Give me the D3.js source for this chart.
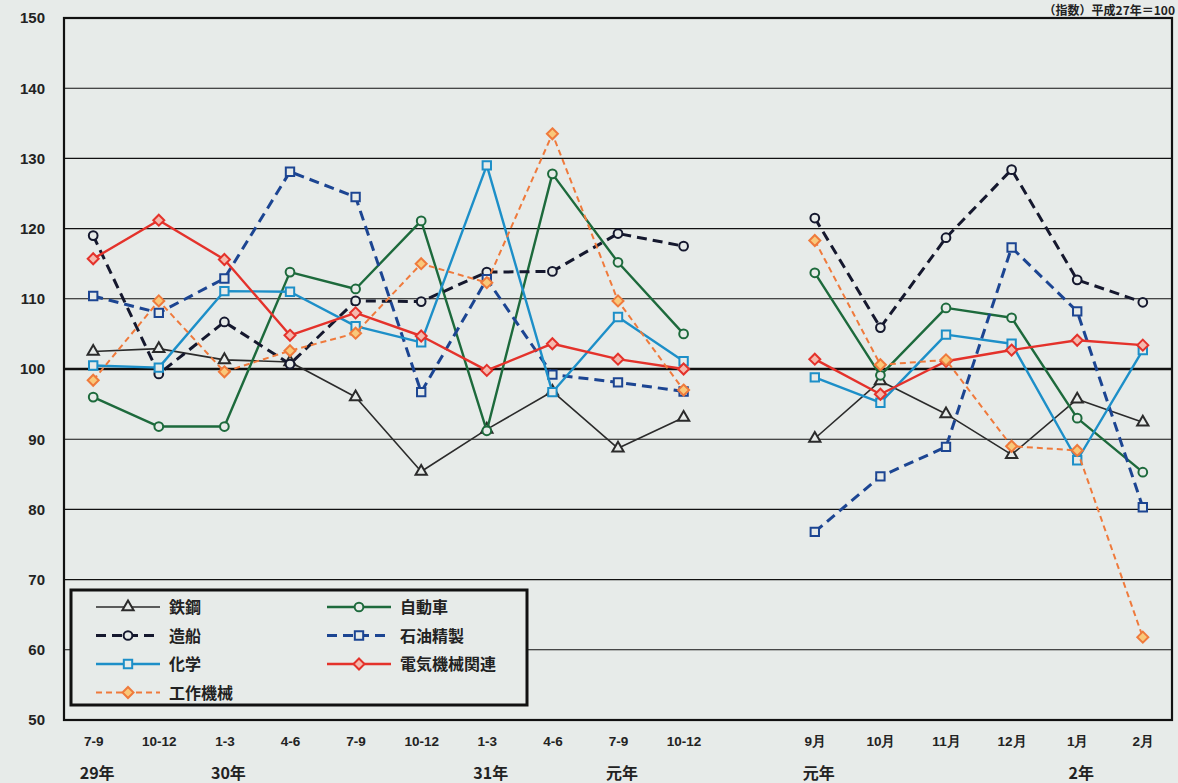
<!DOCTYPE html>
<html><head><meta charset="utf-8">
<script src="https://cdn.jsdelivr.net/npm/d3@7"></script>
<style>
html,body{margin:0;padding:0;background:#e7ebe9;}
svg{display:block;}
</style></head>
<body>
<svg id="chart" width="1178" height="783"></svg>
<script>
// ---- data ----
const categories = ["7-9","10-12","1-3","4-6","7-9","10-12","1-3","4-6","7-9","10-12","","9月","10月","11月","12月","1月","2月"];
const yearLabels = [[0,"29年"],[2,"30年"],[6,"31年"],[8,"元年"],[11,"元年"],[15,"2年"]];
const yTicks = [50,60,70,80,90,100,110,120,130,140,150];

const steel      = [102.5,102.9,101.3,101.0, 96.0, 85.4, 91.4, 96.8, 88.7, 93.1,null, 90.1, 98.3, 93.6, 87.8, 95.7, 92.4];
const autos      = [ 96.0, 91.8, 91.8,113.8,111.4,121.1, 91.2,127.8,115.2,105.0,null,113.7, 99.1,108.7,107.3, 93.0, 85.3];
const ships      = [119.0, 99.3,106.7,100.7,109.7,109.6,113.8,113.9,119.3,117.5,null,121.5,105.9,118.7,128.4,112.7,109.5];
const oil        = [110.4,108.0,112.9,128.1,124.5, 96.7,112.8, 99.2, 98.1, 96.8,null, 76.8, 84.7, 88.9,117.3,108.2, 80.3];
const chemical   = [100.5,100.2,111.1,111.0,106.1,103.8,129.0, 96.7,107.4,101.1,null, 98.8, 95.2,104.9,103.6, 87.0,102.7];
const electrical = [115.7,121.2,115.6,104.8,108.0,104.7, 99.8,103.6,101.4,100.0,null,101.4, 96.4,101.1,102.7,104.1,103.4];
const machine    = [ 98.4,109.7, 99.6,102.6,105.1,115.0,112.3,133.5,109.7, 97.0,null,118.3,100.6,101.3, 89.0, 88.4, 61.8];

const series = [
  {name:"鉄鋼", values:steel, color:"#2b2b2b", width:1.6, dash:null, marker:"triangle", fill:"#e7ebe9"},
  {name:"自動車", values:autos, color:"#1d6a3c", width:2.4, dash:null, marker:"circle", fill:"#e7ebe9"},
  {name:"造船", values:ships, color:"#15182e", width:3, dash:"10,6", marker:"circle", fill:"#e7ebe9"},
  {name:"石油精製", values:oil, color:"#1c4592", width:3, dash:"10,6", marker:"square", fill:"#e7ebe9"},
  {name:"化学", values:chemical, color:"#1d8fc8", width:2.4, dash:null, marker:"square", fill:"#e7ebe9"},
  {name:"電気機械関連", values:electrical, color:"#e4322b", width:2.4, dash:null, marker:"diamond", fill:"#f5b9ae"},
  {name:"工作機械", values:machine, color:"#ef7a3c", width:2, dash:"6,4", marker:"diamond", fill:"#f9c87a"}
];

// ---- layout ----
const svg = d3.select("#chart");
const L = 64, R = 1172, T = 18, B = 720;

const x = d3.scalePoint().domain(d3.range(categories.length)).range([L, R]).padding(0.445);
const y = d3.scaleLinear().domain([50,150]).range([B, T]);

// grid lines
svg.append("g").selectAll("line").data(yTicks.filter(v=>v>50 && v<150)).join("line")
  .attr("x1", L).attr("x2", R)
  .attr("y1", d=>y(d)).attr("y2", d=>y(d))
  .attr("stroke", "#111").attr("stroke-width", d=>d===100?2.6:1.1);

// frame
svg.append("rect").attr("x", L).attr("y", T).attr("width", R-L).attr("height", B-T)
  .attr("fill","none").attr("stroke","#111").attr("stroke-width",2.2);

// y axis labels
const yAxis = d3.axisLeft(y).tickValues(yTicks).tickSize(0).tickPadding(19);
const gy = svg.append("g").attr("transform",`translate(${L},0)`).call(yAxis);
gy.select(".domain").remove();
gy.selectAll("text").attr("font-family","Liberation Sans, Arial, sans-serif")
  .attr("font-size",15).attr("fill","#222").attr("font-weight","bold");

// x axis labels
const xAxis = d3.axisBottom(x).tickFormat(i=>categories[i]).tickSize(0).tickPadding(16);
const gx = svg.append("g").attr("transform",`translate(0,${B})`).call(xAxis);
gx.select(".domain").remove();
gx.selectAll("text").attr("font-family","Liberation Sans Narrow, Liberation Sans, Arial, sans-serif")
  .attr("font-size",13.5).attr("font-weight","bold").attr("fill","#222");

// year labels
svg.append("g").selectAll("text").data(yearLabels).join("text")
  .attr("x", d=>x(d[0])+4).attr("y", 779)
  .attr("text-anchor","middle")
  .attr("font-family","Noto Sans CJK JP, sans-serif").attr("font-weight","bold")
  .attr("font-size",16).attr("fill","#222").text(d=>d[1]);

// unit label
svg.append("text").attr("x", 1175).attr("y", 14.5).attr("text-anchor","end")
  .attr("font-family","Noto Sans CJK JP, sans-serif").attr("font-weight","bold")
  .attr("font-size",12).attr("fill","#222").text("（指数）平成27年＝100");

// markers
function markerPath(type){
  if (type === "diamond") {
    const p = d3.path(); const r = 5.5;
    p.moveTo(0,-r); p.lineTo(r,0); p.lineTo(0,r); p.lineTo(-r,0); p.closePath();
    return p.toString();
  }
  const sym = {triangle:d3.symbolTriangle, circle:d3.symbolCircle, square:d3.symbolSquare}[type];
  const size = {triangle:55, circle:60, square:70}[type];
  return d3.symbol().type(sym).size(size)();
}

const line = d3.line().defined(d=>d!=null).x((d,i)=>x(i)).y(d=>y(d));

const plot = svg.append("g");
series.forEach(s=>{
  const g = plot.append("g");
  g.append("path").attr("d", line(s.values))
    .attr("fill","none").attr("stroke",s.color).attr("stroke-width",s.width)
    .attr("stroke-dasharray",s.dash).attr("stroke-linejoin","round");
  g.selectAll("path.m").data(s.values.map((v,i)=>[i,v]).filter(d=>d[1]!=null)).join("path")
    .attr("class","m")
    .attr("transform", d=>`translate(${x(d[0])},${y(d[1])})`)
    .attr("d", markerPath(s.marker))
    .attr("fill", s.fill).attr("stroke", s.color).attr("stroke-width", 2);
});

// legend
const lg = svg.append("g");
lg.append("rect").attr("x",71).attr("y",590).attr("width",456).attr("height",115)
  .attr("fill","#e7ebe9").attr("stroke","#111").attr("stroke-width",3);
series.forEach((s,k)=>{
  const col = k%2, row = Math.floor(k/2);
  const lx = col===0 ? 96 : 327;
  const ly = 607 + row*28.5;
  lg.append("line").attr("x1",lx).attr("x2",lx+64).attr("y1",ly).attr("y2",ly)
    .attr("stroke",s.color).attr("stroke-width",s.width).attr("stroke-dasharray",s.dash);
  lg.append("path").attr("transform",`translate(${lx+32},${ly})`).attr("d",markerPath(s.marker))
    .attr("fill",s.fill).attr("stroke",s.color).attr("stroke-width",2);
  lg.append("text").attr("x",lx+73).attr("y",ly+6)
    .attr("font-family","Noto Sans CJK JP, sans-serif").attr("font-weight","bold")
    .attr("font-size",16).attr("fill","#222").text(s.name);
});
</script>
</body></html>
